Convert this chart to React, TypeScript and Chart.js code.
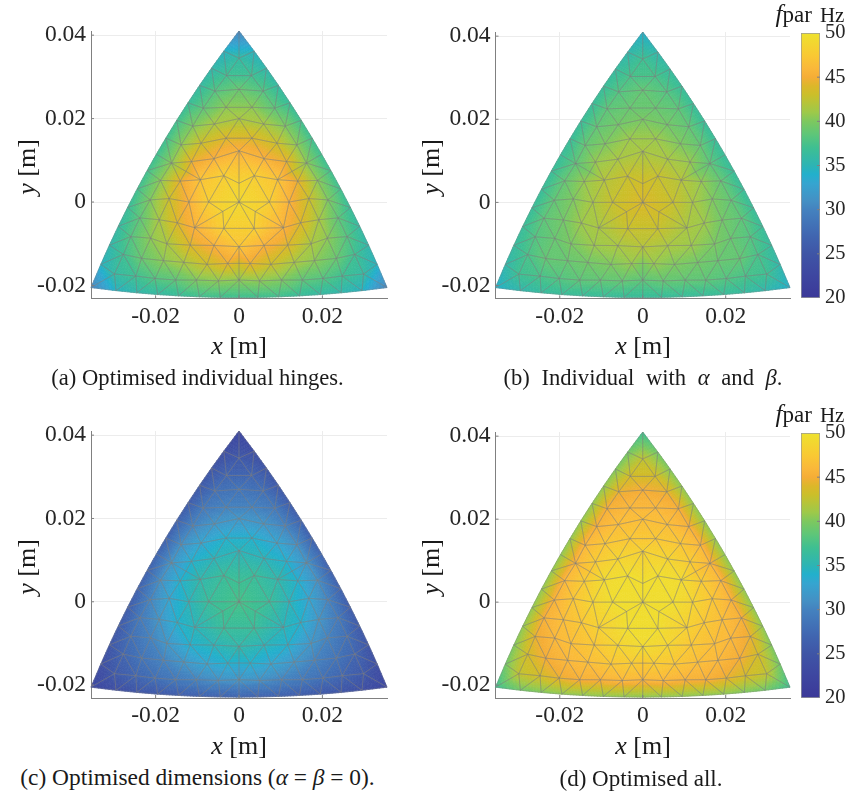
import React, { useEffect, useRef } from "react";
import { Chart, registerables } from "chart.js";

Chart.register(...registerables);

// Mesh nodes of one sixth of the plate, in millimetres (the plate has three-fold mirror symmetry)
const sectorX = [0, 0, 0, 0, 0, 0, 0, 9.27, 12.73, 16.19, 19.83, 3.65, 6, 3.1, 9.1, 11.4, 5.9, 11.1, 13.9, 3.1, 8.6, 5.8, 3, 3.64, 6.59, 9.45, 12.23, 14.93, 17.54];
const sectorY = [0, 4.5, 12.3, 20, 27, 34.5, 41, 5.35, 7.35, 9.35, 11.45, 6.3, 10.4, 15.3, 14.1, 9.7, 18.7, 18.2, 13.7, 22.7, 22.5, 26.6, 30.3, 36.17, 32.1, 27.98, 23.8, 19.59, 15.33];

// f_par in Hz at those nodes, per panel
const valuesA = [49, 48.5, 45.5, 41.5, 39, 36, 30, 47, 43.5, 40.5, 37, 48, 45.5, 44, 43, 44.5, 41.5, 40, 40.5, 40.5, 38.5, 38, 37, 34.5, 35.5, 36, 36.5, 37, 37];
const valuesB = [43.8, 43.3, 41.5, 39.8, 38.8, 37, 34, 42, 40, 38.5, 36.5, 42.8, 41.5, 41, 40, 40.8, 39.5, 38.7, 38.8, 39, 38.5, 38, 37.5, 35.5, 36.2, 36.5, 36.5, 36.5, 36.5];
const valuesC = [37.5, 37, 34.8, 31.5, 28.5, 25.5, 22.5, 35.5, 33.8, 31.5, 27, 36.5, 34.8, 34, 33, 34, 31.5, 30, 31, 30, 29, 28, 27, 24, 25, 25.5, 26, 26.5, 26.5];
const valuesD = [49.5, 49.5, 48.2, 46.5, 45, 42.5, 37, 49.2, 47.3, 46, 40.5, 49.5, 48.6, 47.3, 47.2, 47.7, 46.5, 45.5, 46, 46, 45.3, 44.5, 43.5, 39.5, 40, 40.5, 40.5, 40.5, 40.5];

// Colour map
const cmapValues = [20, 22.5, 25, 27, 30, 31, 33, 34, 35, 37, 38.5, 40, 41, 43, 44, 45, 46, 47.5, 50];
const cmapColors = ["#3b3898", "#3e46a0", "#3f55a6", "#4065b0", "#4482bf", "#4490c4", "#35a5d0", "#22b0cc", "#2db4b4", "#3ebf92", "#5dc679", "#7dc85f", "#9dc94a", "#cbbf2a", "#dcb72a", "#f5ad36", "#fab83a", "#f9c933", "#eee22e"];

const xTicks = [-0.02, 0, 0.02];
const yTicks = [-0.02, 0, 0.02, 0.04];
const barTicks = [20, 25, 30, 35, 40, 45, 50];
const xRange = [-0.0355, 0.0355];
const yRange = [-0.0231, 0.041];

const SERIF = '"Liberation Serif", serif';

type Node = { x: number; y: number; v: number };

function expand(values: number[]): Node[] {
  const out: Node[] = [];
  sectorX.forEach((sx, i) => {
    for (const m of [1, -1]) {
      for (const a of [0, 120, 240]) {
        const c = Math.cos((a * Math.PI) / 180);
        const s = Math.sin((a * Math.PI) / 180);
        const px = m * sx * c - sectorY[i] * s;
        const py = m * sx * s + sectorY[i] * c;
        if (!out.some((n) => Math.hypot(n.x - px / 1000, n.y - py / 1000) < 1e-5)) {
          out.push({ x: px / 1000, y: py / 1000, v: values[i] });
        }
      }
    }
  });
  return out;
}

function delaunay(pts: { x: number; y: number }[]): number[][] {
  const P = pts.map((p) => ({ x: p.x * 1000, y: p.y * 1000 }));
  const n = P.length;
  P.push({ x: -3e5, y: -3e5 }, { x: 3e5, y: -3e5 }, { x: 0, y: 3e5 });
  const circ = (a: number, b: number, c: number) => {
    const A = P[a], B = P[b], C = P[c];
    const d = 2 * (A.x * (B.y - C.y) + B.x * (C.y - A.y) + C.x * (A.y - B.y));
    const a2 = A.x * A.x + A.y * A.y, b2 = B.x * B.x + B.y * B.y, c2 = C.x * C.x + C.y * C.y;
    const ux = (a2 * (B.y - C.y) + b2 * (C.y - A.y) + c2 * (A.y - B.y)) / d;
    const uy = (a2 * (C.x - B.x) + b2 * (A.x - C.x) + c2 * (B.x - A.x)) / d;
    return { ux, uy, r2: (A.x - ux) ** 2 + (A.y - uy) ** 2 };
  };
  let tris = [{ v: [n, n + 1, n + 2], ...circ(n, n + 1, n + 2) }];
  for (let i = 0; i < n; i++) {
    const p = P[i];
    const bad: typeof tris = [];
    const good: typeof tris = [];
    for (const t of tris) {
      if ((p.x - t.ux) ** 2 + (p.y - t.uy) ** 2 < t.r2 * (1 - 1e-9)) bad.push(t);
      else good.push(t);
    }
    const edges = new Map<string, number[]>();
    for (const t of bad) {
      for (let k = 0; k < 3; k++) {
        const a = t.v[k], b = t.v[(k + 1) % 3];
        const key = a < b ? a + "_" + b : b + "_" + a;
        if (edges.has(key)) edges.set(key, []);
        else edges.set(key, [a, b]);
      }
    }
    tris = good;
    edges.forEach((e) => {
      if (e.length) tris.push({ v: [e[0], e[1], i], ...circ(e[0], e[1], i) });
    });
  }
  return tris.filter((t) => t.v.every((k) => k < n)).map((t) => t.v);
}

const stopsRgb = cmapColors.map((h) => [1, 3, 5].map((i) => parseInt(h.slice(i, i + 2), 16)));
function colourOf(v: number): string {
  let i = 0;
  while (i < cmapValues.length - 2 && v > cmapValues[i + 1]) i++;
  const t = Math.min(1, Math.max(0, (v - cmapValues[i]) / (cmapValues[i + 1] - cmapValues[i])));
  const c = stopsRgb[i].map((a, k) => Math.round(a + (stopsRgb[i + 1][k] - a) * t));
  return `rgb(${c[0]},${c[1]},${c[2]})`;
}

const meshPlugin = {
  id: "mesh",
  afterDatasetsDraw(chart: any) {
    const nodes: Node[] = chart.data.datasets[0].data;
    const tris: number[][] = chart.data.datasets[0].triangles;
    const { x: sx, y: sy } = chart.scales;
    const { ctx } = chart;
    const px = nodes.map((n) => [sx.getPixelForValue(n.x), sy.getPixelForValue(n.y)]);
    ctx.save();
    const N = 7;
    ctx.lineWidth = 0.7;
    for (const [a, b, c] of tris) {
      const at = (i: number, j: number) => {
        const l1 = i / N, l2 = j / N, l3 = 1 - l1 - l2;
        return {
          p: [px[a][0] * l1 + px[b][0] * l2 + px[c][0] * l3, px[a][1] * l1 + px[b][1] * l2 + px[c][1] * l3],
          v: nodes[a].v * l1 + nodes[b].v * l2 + nodes[c].v * l3,
        };
      };
      const fill = (q: any[]) => {
        const col = colourOf((q[0].v + q[1].v + q[2].v) / 3);
        ctx.fillStyle = col;
        ctx.strokeStyle = col;
        ctx.beginPath();
        ctx.moveTo(q[0].p[0], q[0].p[1]);
        ctx.lineTo(q[1].p[0], q[1].p[1]);
        ctx.lineTo(q[2].p[0], q[2].p[1]);
        ctx.closePath();
        ctx.fill();
        ctx.stroke();
      };
      for (let i = 0; i < N; i++) {
        for (let j = 0; j < N - i; j++) {
          fill([at(i, j), at(i + 1, j), at(i, j + 1)]);
          if (i + j < N - 1) fill([at(i + 1, j), at(i + 1, j + 1), at(i, j + 1)]);
        }
      }
    }
    ctx.strokeStyle = "rgba(125,125,125,0.42)";
    ctx.lineWidth = 0.8;
    ctx.beginPath();
    for (const [a, b, c] of tris) {
      ctx.moveTo(px[a][0], px[a][1]);
      ctx.lineTo(px[b][0], px[b][1]);
      ctx.lineTo(px[c][0], px[c][1]);
      ctx.closePath();
    }
    ctx.stroke();
    ctx.strokeStyle = "#808080";
    ctx.lineWidth = 1;
    ctx.beginPath();
    const area = chart.chartArea;
    xTicks.forEach((v) => {
      const p = sx.getPixelForValue(v);
      ctx.moveTo(p, area.bottom);
      ctx.lineTo(p, area.bottom - 3);
    });
    yTicks.forEach((v) => {
      const p = sy.getPixelForValue(v);
      ctx.moveTo(area.left, p);
      ctx.lineTo(area.left + 3, p);
    });
    ctx.stroke();
    ctx.restore();
  },
};

const barTickPlugin = {
  id: "barTicks",
  afterDatasetsDraw(chart: any) {
    const { ctx, chartArea: area } = chart;
    ctx.save();
    ctx.strokeStyle = "#808080";
    ctx.beginPath();
    barTicks.slice(1, -1).forEach((v) => {
      const p = chart.scales.y.getPixelForValue(v);
      ctx.moveTo(area.right, p);
      ctx.lineTo(area.right - 3, p);
    });
    ctx.stroke();
    ctx.restore();
  },
};

const fmt = (v: number) => (v === 0 ? "0" : v.toFixed(2));

type PanelProps = { values: number[]; left: number; top: number; plot: [number, number, number, number] };

function Panel({ values, left, top, plot }: PanelProps) {
  const ref = useRef<HTMLCanvasElement>(null);
  const W = 420, H = 340;
  useEffect(() => {
    const nodes = expand(values);
    const tick = { color: "#262626", font: { family: SERIF, size: 23.5 } };
    const chart = new Chart(ref.current!, {
      type: "scatter",
      data: { datasets: [{ data: nodes as any, pointRadius: 0, triangles: delaunay(nodes) } as any] },
      options: {
        animation: false,
        responsive: false,
        events: [],
        layout: { padding: { top: plot[1] - top, right: left + W - plot[2], left: 0, bottom: 0 } },
        plugins: { legend: { display: false }, tooltip: { enabled: false } },
        scales: {
          x: {
            type: "linear",
            min: xRange[0],
            max: xRange[1],
            afterBuildTicks: (s: any) => { s.ticks = xTicks.map((value) => ({ value })); },
            afterFit: (s: any) => { s.height = top + H - plot[3]; },
            ticks: { ...tick, padding: 4, maxRotation: 0, autoSkip: false, callback: (v: any) => fmt(+v) },
            grid: { color: "#ececec", drawTicks: false, lineWidth: 1 },
            border: { color: "#808080", width: 1 },
          },
          y: {
            type: "linear",
            min: yRange[0],
            max: yRange[1],
            afterBuildTicks: (s: any) => { s.ticks = yTicks.map((value) => ({ value })); },
            afterFit: (s: any) => { s.width = plot[0] - left; },
            ticks: { ...tick, padding: 5, autoSkip: false, callback: (v: any) => fmt(+v) },
            grid: { color: "#ececec", drawTicks: false, lineWidth: 1 },
            border: { color: "#808080", width: 1 },
          },
        },
      } as any,
      plugins: [meshPlugin],
    });
    return () => chart.destroy();
  }, []);
  return <canvas ref={ref} width={W} height={H} style={{ position: "absolute", left, top, width: W, height: H }} />;
}

function ColourBar({ top, plotTop, plotBottom }: { top: number; plotTop: number; plotBottom: number }) {
  const ref = useRef<HTMLCanvasElement>(null);
  const W = 70, H = 340, L = 780, barL = 801, barR = 820;
  useEffect(() => {
    const chart = new Chart(ref.current!, {
      type: "bar",
      data: {
        labels: ["f_par"],
        datasets: [{
          data: [[barTicks[0], barTicks[barTicks.length - 1]]] as any,
          barPercentage: 1,
          categoryPercentage: 1,
          borderColor: "#9a9a9a",
          borderWidth: 1,
          borderSkipped: false,
          backgroundColor: (c: any) => {
            const { chart: ch } = c;
            if (!ch.chartArea) return "#888";
            const y = ch.scales.y;
            const g = ch.ctx.createLinearGradient(0, y.getPixelForValue(20), 0, y.getPixelForValue(50));
            cmapValues.forEach((v, i) => g.addColorStop((v - 20) / 30, cmapColors[i]));
            return g;
          },
        }],
      },
      options: {
        animation: false,
        responsive: false,
        events: [],
        layout: { padding: { left: barL - L, top: plotTop - top, bottom: top + H - plotBottom, right: 0 } },
        plugins: { legend: { display: false }, tooltip: { enabled: false } },
        scales: {
          x: { display: false },
          y: {
            position: "right",
            min: 20,
            max: 50,
            afterBuildTicks: (s: any) => { s.ticks = barTicks.map((value) => ({ value })); },
            afterFit: (s: any) => { s.width = L + W - barR; },
            ticks: { color: "#262626", padding: 5, font: { family: SERIF, size: 20.5 } },
            grid: { display: false, drawTicks: false },
            border: { display: false },
          },
        },
      } as any,
      plugins: [barTickPlugin],
    });
    return () => chart.destroy();
  }, []);
  return <canvas ref={ref} width={W} height={H} style={{ position: "absolute", left: L, top, width: W, height: H }} />;
}

const Txt = ({ x, y, size, rot, spacing, children }: any) => (
  <div style={{
    position: "absolute", left: x, top: y, whiteSpace: "nowrap", fontFamily: SERIF, fontSize: size, color: "#1a1a1a", lineHeight: 1,
    wordSpacing: spacing || 0,
    transform: `translate(-50%,-50%)${rot ? ` rotate(${rot}deg)` : ""}`,
  }}>{children}</div>
);

const I = ({ children }: any) => <i>{children}</i>;

function AxisLabels({ cx, ty, lx, ly }: { cx: number; ty: number; lx: number; ly: number }) {
  return (
    <>
      <Txt x={cx} y={ty} size={26}><I>x</I>&nbsp;[m]</Txt>
      <Txt x={lx} y={ly} size={26} rot={-90}><I>y</I>&nbsp;[m]</Txt>
    </>
  );
}

function BarTitle({ y }: { y: number }) {
  return (
    <Txt x={810} y={y} size={21}><span style={{ fontSize: 25 }}><I>f</I></span><span style={{ fontSize: 23 }}>par</span><span style={{ marginLeft: 8 }}>Hz</span></Txt>
  );
}

export default function App() {
  return (
    <div style={{ position: "absolute", left: 0, top: 0, width: 850, height: 794, overflow: "hidden", background: "#fff" }}>
      <Panel values={valuesA} left={0} top={0} plot={[91, 31, 387, 298.4]} />
      <Panel values={valuesB} left={404} top={0} plot={[495.5, 32, 790, 298.4]} />
      <Panel values={valuesC} left={0} top={400} plot={[91, 431, 387, 698]} />
      <Panel values={valuesD} left={404} top={400} plot={[495.5, 432, 790, 698]} />
      <ColourBar top={0} plotTop={33} plotBottom={298} />
      <ColourBar top={400} plotTop={433} plotBottom={698} />
      <BarTitle y={13} />
      <BarTitle y={413} />
      <AxisLabels cx={239} ty={346} lx={27} ly={167} />
      <AxisLabels cx={643} ty={346} lx={431} ly={167} />
      <AxisLabels cx={239} ty={746} lx={27} ly={567} />
      <AxisLabels cx={643} ty={746} lx={431} ly={567} />
      <Txt x={197.5} y={378} size={22.6}>(a) Optimised individual hinges.</Txt>
      <Txt x={643} y={378} size={22.6} spacing={6}>(b) Individual with <I>α</I> and <I>β</I>.</Txt>
      <Txt x={197.5} y={778} size={23.4}>(c) Optimised dimensions (<I>α</I> = <I>β</I> = 0).</Txt>
      <Txt x={641} y={778} size={23}>(d) Optimised all.</Txt>
    </div>
  );
}
